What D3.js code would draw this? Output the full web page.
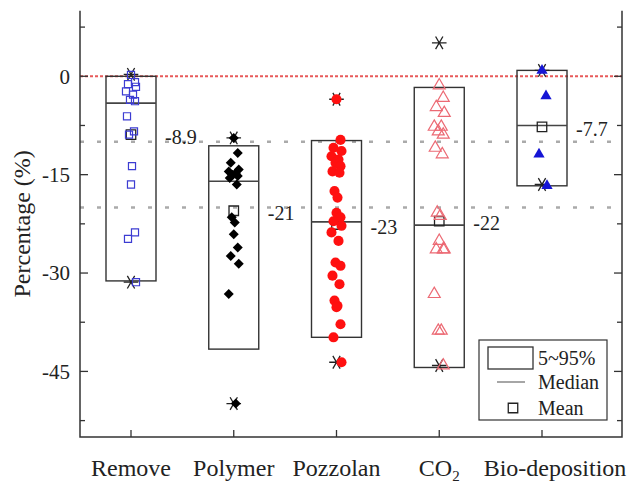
<!DOCTYPE html>
<html>
<head>
<meta charset="utf-8">
<script src="https://cdn.jsdelivr.net/npm/d3@7"></script>
<style>
  body { margin: 0; background: #fff; }
  svg { display: block; font-family: "Liberation Serif", "Times New Roman", serif; }
</style>
</head>
<body>
<svg id="chart"></svg>
<script>
// categories and summary values
const categories = ["Remove", "Polymer", "Pozzolan", "CO2", "Bio-deposition"];
const p95 = [0, -10.6, -9.8, -1.7, 0.9];
const p05 = [-31.2, -41.6, -39.8, -44.4, -16.7];
const medians = [-4.1, -16.0, -22.2, -22.7, -7.5];
const means = [-8.9, -20.5, -22.6, -22.1, -7.7];
const meanLabels = ["-8.9", "-21", "-23", "-22", "-7.7"];
const maxs = [0.3, -9.4, -3.5, 5.1, 0.9];
const mins = [-31.4, -49.9, -43.6, -44.1, -16.5];

// individual points
const removeVals = [0.2, -0.9, -1.2, -1.6, -2.3, -2.8, -3.6, -3.8, -6.1, -8.4, -8.9, -13.7, -16.5, -23.8, -24.8, -31.4];
const polymerVals = [-9.4, -11.7, -13.2, -14.2, -14.5, -14.8, -15.0, -15.2, -15.5, -16.5, -21.5, -22.3, -24.1, -26.1, -27.4, -28.6, -33.2, -49.9];
const pozzolanVals = [-3.5, -9.7, -10.9, -11.4, -12.2, -12.7, -13.2, -13.7, -14.5, -14.7, -17.5, -18.5, -20.8, -21.5, -22.1, -22.8, -23.8, -25.1, -28.4, -28.9, -30.4, -31.7, -34.2, -35.0, -35.2, -37.8, -39.8, -43.6];
const co2Vals = [-1.4, -3.3, -4.7, -5.6, -7.7, -7.7, -8.4, -8.9, -10.9, -11.9, -20.8, -21.3, -25.1, -26.4, -26.4, -26.4, -33.2, -38.8, -38.8, -44.1];
const bioVals = [0.9, -3.0, -11.9, -16.7];

const yTicks = [0, -15, -30, -45];
const refLines = [-10, -20];

const width = 631, height = 483;
const marginLeft = 80, marginRight = 9, marginTop = 10.7, marginBottom = 46;

const svg = d3.select("#chart")
    .attr("width", width)
    .attr("height", height)
    .attr("viewBox", `0 0 ${width} ${height}`);

const x = d3.scalePoint()
    .domain(categories)
    .range([131, 542]);

const y = d3.scaleLinear()
    .domain([-55, 10])
    .range([height - marginBottom, marginTop]);

const boxW = 50;
const axisColor = "#333";

// reference lines
svg.append("g")
    .selectAll("line")
    .data(refLines)
    .join("line")
    .attr("x1", marginLeft).attr("x2", width - marginRight)
    .attr("y1", d => y(d)).attr("y2", d => y(d))
    .attr("stroke", "#aaa")
    .attr("stroke-width", 2.5)
    .attr("stroke-dasharray", "4 13");

svg.append("line")
    .attr("x1", marginLeft).attr("x2", width - marginRight)
    .attr("y1", y(0)).attr("y2", y(0))
    .attr("stroke", "#e85a5a")
    .attr("stroke-width", 2)
    .attr("stroke-dasharray", "3 2");

// boxes
const stats = categories.map((c, i) => ({
    c, hi: p95[i], lo: p05[i], med: medians[i], mean: means[i],
    label: meanLabels[i], max: maxs[i], min: mins[i]
}));

const boxes = svg.append("g").selectAll("g")
    .data(stats)
    .join("g")
    .attr("transform", d => `translate(${x(d.c)},0)`);

boxes.append("rect")
    .attr("x", -boxW / 2)
    .attr("width", boxW)
    .attr("y", d => y(d.hi))
    .attr("height", d => y(d.lo) - y(d.hi))
    .attr("fill", "none")
    .attr("stroke", axisColor)
    .attr("stroke-width", 1.4);

boxes.append("line")
    .attr("x1", -boxW / 2).attr("x2", boxW / 2)
    .attr("y1", d => y(d.med)).attr("y2", d => y(d.med))
    .attr("stroke", "#444")
    .attr("stroke-width", 1.6);

// points
const jitter = [0, 4, -3, 5, -5, 2, -1, 4, -4, 3, -2, 1];
const series = [
    { vals: removeVals, sym: d3.symbolSquare, size: 50, fill: "none", stroke: "#3c3cd2", rot: 0 },
    { vals: polymerVals, sym: d3.symbolSquare, size: 50, fill: "#000", stroke: "none", rot: 45 },
    { vals: pozzolanVals, sym: d3.symbolCircle, size: 80, fill: "#ff1010", stroke: "none", rot: 0 },
    { vals: co2Vals, sym: d3.symbolTriangle, size: 62, fill: "none", stroke: "#ec6a74", rot: 0 },
    { vals: bioVals, sym: d3.symbolTriangle, size: 55, fill: "#1515d5", stroke: "none", rot: 0 }
];

series.forEach((s, k) => {
    svg.append("g")
        .selectAll("path")
        .data(s.vals)
        .join("path")
        .attr("d", d3.symbol(s.sym, s.size))
        .attr("transform", (d, i) => `translate(${x(categories[k]) + jitter[i % jitter.length]},${y(d)}) rotate(${s.rot})`)
        .attr("fill", s.fill)
        .attr("stroke", s.stroke)
        .attr("stroke-width", 1.2);
});

// mean squares, max/min stars, labels
boxes.append("path")
    .attr("d", d3.symbol(d3.symbolSquare, 90))
    .attr("transform", d => `translate(0,${y(d.mean)})`)
    .attr("fill", "none")
    .attr("stroke", "#222")
    .attr("stroke-width", 1.3);

const star = d3.symbol(d3.symbolAsterisk, 150);
boxes.selectAll(".star")
    .data(d => [d.max, d.min])
    .join("path")
    .attr("class", "star")
    .attr("d", star)
    .attr("transform", d => `translate(0,${y(d)}) rotate(90)`)
    .attr("fill", "none")
    .attr("stroke", "#222")
    .attr("stroke-width", 1.3);

boxes.append("text")
    .attr("x", boxW / 2 + 9)
    .attr("y", d => y(d.mean) + 2)
    .attr("dy", "0.35em")
    .attr("font-size", 20)
    .attr("fill", "#222")
    .text(d => d.label);

// axes
const minor = d3.range(-52.5, 10, 7.5);
const left = marginLeft, right = width - marginRight, bottom = height - marginBottom;

svg.append("path")
    .attr("d", `M${left},${marginTop}V${bottom}H${right}V${marginTop}`)
    .attr("fill", "none")
    .attr("stroke", axisColor)
    .attr("stroke-width", 1.5);

[left, right].forEach(ax => {
    const dir = ax === left ? 1 : -1;
    svg.append("g").selectAll("line")
        .data(minor)
        .join("line")
        .attr("x1", ax).attr("x2", d => ax + dir * (yTicks.includes(d) ? 8 : 5))
        .attr("y1", d => y(d)).attr("y2", d => y(d))
        .attr("stroke", axisColor)
        .attr("stroke-width", 1.3);
});

svg.append("g").selectAll("text")
    .data(yTicks)
    .join("text")
    .attr("x", 70)
    .attr("y", d => y(d))
    .attr("dy", "0.35em")
    .attr("text-anchor", "end")
    .attr("font-size", 21)
    .attr("fill", "#222")
    .text(d => d);

svg.append("g").selectAll("line")
    .data(categories)
    .join("line")
    .attr("x1", d => x(d)).attr("x2", d => x(d))
    .attr("y1", bottom).attr("y2", bottom - 7)
    .attr("stroke", axisColor)
    .attr("stroke-width", 1.3);

const xl = svg.append("g").selectAll("text")
    .data(categories)
    .join("text")
    .attr("x", d => x(d))
    .attr("dx", (d, i) => i === categories.length - 1 ? 13 : 0)
    .attr("y", 476)
    .attr("text-anchor", "middle")
    .attr("font-size", 24)
    .attr("fill", "#222");

xl.each(function (d) {
    const t = d3.select(this);
    if (d === "CO2") {
        t.append("tspan").text("CO");
        t.append("tspan").attr("font-size", 15).attr("dy", 5).text("2");
    } else {
        t.text(d);
    }
});

svg.append("text")
    .attr("transform", `translate(22,${(marginTop + bottom) / 2}) rotate(-90)`)
    .attr("text-anchor", "middle")
    .attr("dy", "0.35em")
    .attr("font-size", 24)
    .attr("fill", "#222")
    .text("Percentage (%)");

// legend
const lg = svg.append("g").attr("transform", "translate(479,340)");
lg.append("rect")
    .attr("width", 128).attr("height", 80)
    .attr("fill", "#fff")
    .attr("stroke", axisColor)
    .attr("stroke-width", 1.2);
lg.append("rect")
    .attr("x", 9).attr("y", 7).attr("width", 45).attr("height", 22)
    .attr("fill", "none")
    .attr("stroke", axisColor)
    .attr("stroke-width", 1.3);
lg.append("line")
    .attr("x1", 18).attr("x2", 46).attr("y1", 42).attr("y2", 42)
    .attr("stroke", "#888").attr("stroke-width", 1.5);
lg.append("path")
    .attr("d", d3.symbol(d3.symbolSquare, 90))
    .attr("transform", "translate(34,68)")
    .attr("fill", "none").attr("stroke", "#222").attr("stroke-width", 1.3);
lg.selectAll("text")
    .data(["5~95%", "Median", "Mean"])
    .join("text")
    .attr("x", 59)
    .attr("y", (d, i) => [18, 42, 68][i])
    .attr("dy", "0.35em")
    .attr("font-size", 20)
    .attr("fill", "#222")
    .text(d => d);
</script>
</body>
</html>
